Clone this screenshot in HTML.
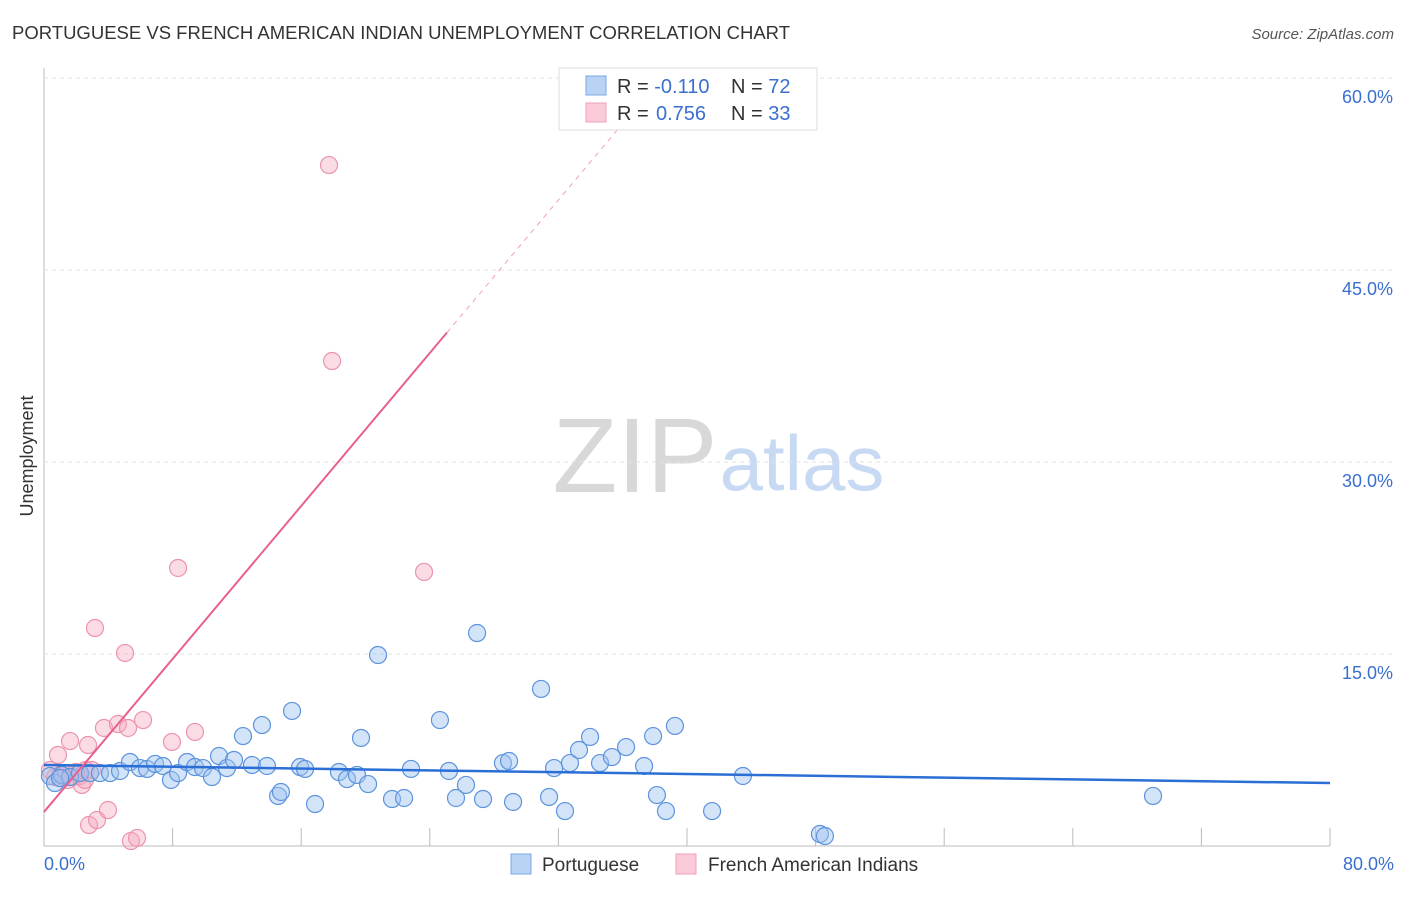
<!DOCTYPE html>
<html><head><meta charset="utf-8"><style>
body{margin:0;background:#fff;font-family:"Liberation Sans",sans-serif}
svg text{font-family:"Liberation Sans",sans-serif}
</style></head><body>
<svg id="c" width="1406" height="892" xmlns="http://www.w3.org/2000/svg">
<text x="12" y="39" font-size="18" fill="#333" textLength="778" lengthAdjust="spacingAndGlyphs">PORTUGUESE VS FRENCH AMERICAN INDIAN UNEMPLOYMENT CORRELATION CHART</text>
<text x="1394" y="39" font-size="15" fill="#555" font-style="italic" text-anchor="end">Source: ZipAtlas.com</text>
<text x="33" y="456" font-size="18" fill="#333" text-anchor="middle" transform="rotate(-90 33 456)">Unemployment</text>
<g>
<text x="635" y="492" font-size="106" font-family="Liberation Serif" fill="#d8d8d8" text-anchor="middle">ZIP</text>
<text x="802" y="490" font-size="78" fill="#c8daf3" text-anchor="middle">atlas</text>
</g>
<g id="grid"></g><g id="marks"></g>
<g>
<rect x="559" y="68" width="258" height="62" fill="#fff" stroke="#ddd"/>
<rect x="586" y="76" width="20" height="19" fill="#b9d3f5" stroke="#7aa7e4"/>
<rect x="586" y="103" width="20" height="19" fill="#fbcbd9" stroke="#eea0b8"/>
<text x="617" y="93" font-size="20" fill="#333">R = <tspan fill="#3a6fd0">-0.110</tspan></text>
<text x="731" y="93" font-size="20" fill="#333">N = <tspan fill="#3a6fd0">72</tspan></text>
<text x="617" y="120" font-size="20" fill="#333">R = <tspan fill="#3a6fd0" x="656">0.756</tspan></text>
<text x="731" y="120" font-size="20" fill="#333">N = <tspan fill="#3a6fd0">33</tspan></text>
</g>
<g>
<rect x="511" y="854" width="20" height="20" fill="#b9d3f5" stroke="#7aa7e4"/>
<text x="542" y="871" font-size="19" fill="#333">Portuguese</text>
<rect x="676" y="854" width="20" height="20" fill="#fbcbd9" stroke="#eea0b8"/>
<text x="708" y="871" font-size="19" fill="#333">French American Indians</text>
</g>
</svg>
<script>
const xTicks=[0,8,16,24,32,40,48,56,64,72,80];
const yTicks=[15,30,45,60];
const blueX=[0.37,0.68,1.12,1.62,2.24,2.86,3.48,4.11,4.73,5.35,5.97,6.41,6.91,7.40,7.90,8.34,8.90,9.39,9.89,10.45,10.89,11.38,11.82,12.38,12.94,13.56,13.87,14.56,14.74,15.43,15.93,16.24,16.86,18.35,18.85,19.47,19.72,20.16,20.78,21.65,22.40,22.83,24.63,25.19,25.63,26.25,26.94,27.31,28.55,28.93,29.18,30.92,31.42,31.73,32.41,32.72,33.28,33.97,34.59,35.33,36.21,37.33,37.89,38.13,38.69,39.25,41.56,43.48,48.27,48.58,68.99,1.00];
const blueY=[5.47,4.92,5.55,5.39,5.70,5.70,5.70,5.70,5.86,6.56,6.09,6.02,6.41,6.25,5.16,5.70,6.56,6.17,6.09,5.39,7.03,6.09,6.72,8.59,6.33,9.45,6.25,3.91,4.22,10.55,6.17,6.02,3.28,5.78,5.23,5.55,8.44,4.84,14.92,3.67,3.75,6.02,9.84,5.86,3.75,4.77,16.64,3.67,6.48,6.64,3.44,12.27,3.83,6.09,2.73,6.48,7.50,8.52,6.48,6.95,7.73,6.25,8.59,3.98,2.73,9.38,2.73,5.47,0.94,0.78,3.91,5.31];
const pinkX=[0.37,0.68,0.87,1.12,1.49,1.62,1.80,2.24,2.36,2.55,2.74,2.80,3.17,3.30,3.73,3.98,4.60,5.04,5.23,5.41,5.79,6.16,7.96,8.34,9.39,17.73,17.92,23.64,1.00,1.37,1.99,2.61,2.99];
const pinkY=[5.94,5.39,7.11,5.47,5.16,8.20,5.39,5.47,4.77,5.16,7.89,1.64,17.03,2.03,9.22,2.81,9.53,15.08,9.22,0.39,0.63,9.84,8.13,21.72,8.91,53.20,37.89,21.41,5.55,5.70,5.78,5.94,5.94];
const blueTrend=[6.33,4.92];
const pinkTrend=[2.66,1.494];
const NS="http://www.w3.org/2000/svg";
const X=v=>44+v*16.075, Y=v=>846-v*12.8;
function mk(t,a,p){const e=document.createElementNS(NS,t);for(const k in a)e.setAttribute(k,a[k]);p.appendChild(e);return e;}
const g=document.getElementById('grid'), m=document.getElementById('marks');
mk('line',{x1:44,y1:68,x2:44,y2:846,stroke:'#bbb'},g);
mk('line',{x1:44,y1:846,x2:1330,y2:846,stroke:'#bbb'},g);
yTicks.forEach(v=>{
 const l=mk('line',{x1:44,y1:Y(v),x2:1394,y2:Y(v),stroke:'#e2e2e2','stroke-dasharray':'4,4'},g);
 
 
 const t=mk('text',{x:1393,y:Y(v)+25,'font-size':18,fill:'#3a6fd0','text-anchor':'end'},g);
 t.textContent=v.toFixed(1)+'%';
 
 
});
xTicks.forEach((v,i)=>{
 if(i>0){const l=mk('line',{x1:X(v),y1:828,x2:X(v),y2:846,stroke:'#bbb'},g);
 
 }
});
[[0,'start',44],[80,'end',1394]].forEach(([v,a,x])=>{
 const t=mk('text',{x:x,y:870,'font-size':18,fill:'#3a6fd0','text-anchor':a},g);
 t.textContent=v.toFixed(1)+'%';
 
 
});
pinkX.forEach((x,i)=>{
 const c=mk('circle',{cx:X(x),cy:Y(pinkY[i]),r:8.5,fill:'rgba(246,168,190,0.4)',stroke:'#ec93ad','stroke-width':1.2},m);
 
 
});
blueX.forEach((x,i)=>{
 const c=mk('circle',{cx:X(x),cy:Y(blueY[i]),r:8.5,fill:'rgba(160,196,240,0.45)',stroke:'#5c93dc','stroke-width':1.2},m);
 
 
});
const bl=mk('line',{x1:X(0),y1:Y(blueTrend[0]),x2:X(80),y2:Y(blueTrend[1]),stroke:'#2b6fd6','stroke-width':2.5},m);


const xe=25.07, xt=(60-pinkTrend[0])/pinkTrend[1];
const pl=mk('line',{x1:X(0),y1:Y(pinkTrend[0]),x2:X(xe),y2:Y(pinkTrend[0]+pinkTrend[1]*xe),stroke:'#e8608c','stroke-width':2},m);


const pd=mk('line',{x1:X(xe),y1:Y(pinkTrend[0]+pinkTrend[1]*xe),x2:X(xt),y2:Y(60),stroke:'#f0a0b8','stroke-width':1,'stroke-dasharray':'5,5'},m);


</script>
</body></html>
